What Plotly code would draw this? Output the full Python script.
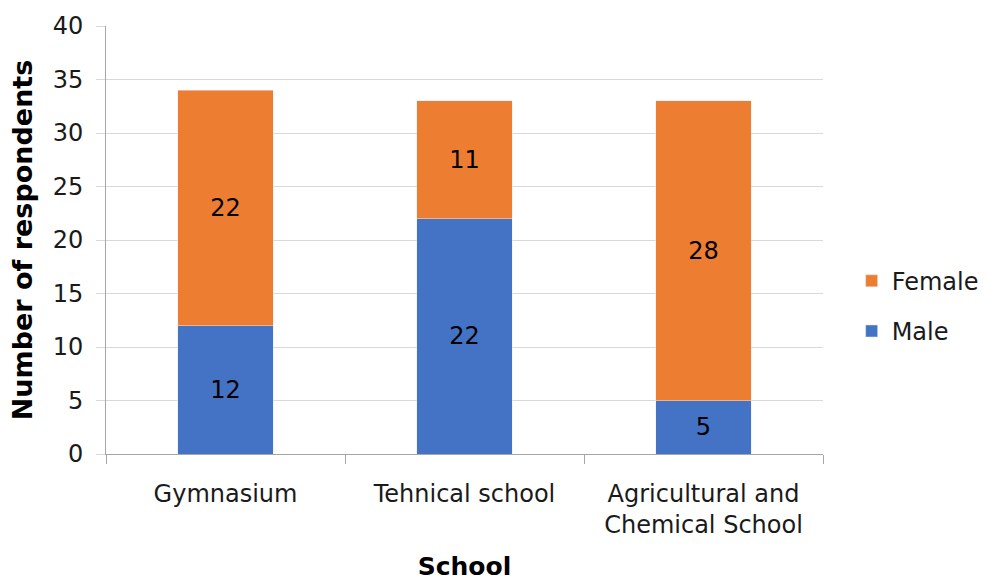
import plotly.graph_objects as go

schools = ["Gymnasium", "Tehnical school", "Agricultural and<br>Chemical School"]
male = [12, 22, 5]
female = [22, 11, 28]
y_ticks = [0, 5, 10, 15, 20, 25, 30, 35, 40]

FONT = "DejaVu Sans"
GRID = "#D9D9D9"
AXIS = "#A6A6A6"
TXT = "#1a1a1a"

fig = go.Figure()
fig.add_trace(go.Bar(
    name="Male", x=schools, y=male, marker_color="#4472C4", legendgroup="m", legendrank=2,
    text=male, textposition="inside", insidetextanchor="middle",
    textfont=dict(family=FONT, size=24, color="black"),
))
fig.add_trace(go.Bar(
    name="Female", x=schools, y=female, marker_color="#ED7D31", legendgroup="f", legendrank=1,
    text=female, textposition="inside", insidetextanchor="middle",
    textfont=dict(family=FONT, size=24, color="black"),
))

fig.update_layout(
    width=988, height=581,
    barmode="stack", bargap=0.6,
    paper_bgcolor="white", plot_bgcolor="white",
    margin=dict(l=106, r=165, t=26, b=127),
    font=dict(family=FONT, size=24, color=TXT),
    legend=dict(
        traceorder="grouped", xref="container", yref="container",
        x=0.862, y=0.473, xanchor="left", yanchor="middle",
        font=dict(family=FONT, size=24, color=TXT),
        itemwidth=30, tracegroupgap=16,
    ),
    uniformtext=dict(mode="show", minsize=24),
)
fig.update_xaxes(
    automargin=False,
    showline=True, linecolor=AXIS, linewidth=1,
    ticks="outside", tickson="boundaries", ticklen=9, tickcolor=AXIS,
    tickfont=dict(family=FONT, size=24, color=TXT),
    ticklabelstandoff=18,
    title=dict(text="<b>School</b>", font=dict(family=FONT, size=25, color="black"), standoff=26),
)
fig.update_yaxes(
    automargin=False,
    range=[0, 40], tickvals=y_ticks,
    showgrid=True, gridcolor=GRID, gridwidth=1,
    showline=True, linecolor=AXIS, linewidth=1,
    ticks="outside", ticklen=9, tickcolor=GRID,
    tickfont=dict(family=FONT, size=24, color=TXT),
    ticklabelstandoff=8,
    title=dict(text="<b>Number of respondents</b>", font=dict(family=FONT, size=27, color="black"), standoff=12),
    zeroline=False,
)

fig.write_html("out.html")
